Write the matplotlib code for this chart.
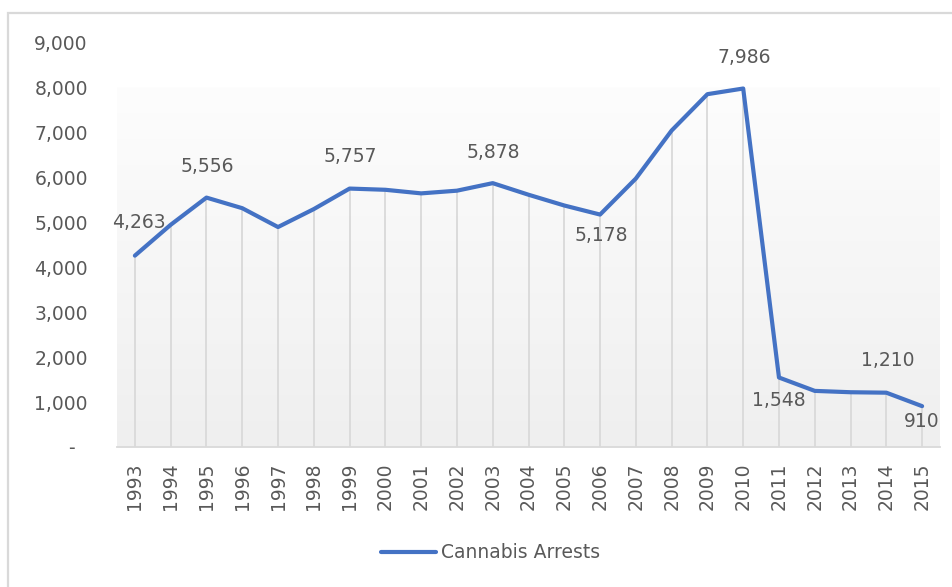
import matplotlib
matplotlib.use("Agg")
import matplotlib.pyplot as plt
import numpy as np
from matplotlib.patches import Rectangle

years = [1993, 1994, 1995, 1996, 1997, 1998, 1999, 2000, 2001, 2002, 2003, 2004,
         2005, 2006, 2007, 2008, 2009, 2010, 2011, 2012, 2013, 2014, 2015]
arrests = [4263, 4950, 5556, 5320, 4900, 5300, 5757, 5730, 5650, 5710, 5878, 5620,
           5380, 5178, 5980, 7050, 7860, 7986, 1548, 1250, 1220, 1210, 910]
series_name = "Cannabis Arrests"
labelled_years = [1993, 1995, 1999, 2003, 2006, 2010, 2011, 2014, 2015]
y_ticks = [0, 1000, 2000, 3000, 4000, 5000, 6000, 7000, 8000, 9000]

# label offsets in pixels (dx, dy) relative to each labelled point
label_offsets = {1993: (4, 33), 1995: (1, 31), 1999: (1, 32), 2003: (1, 31),
                 2006: (1, -21), 2010: (1, 31), 2011: (0, -23), 2014: (1, 32),
                 2015: (0, -15)}

W, H, DPI = 952, 587, 100
LINE = "#4472C4"
TEXT = "#595959"
GRID = "#d9d9d9"
FS = 13.5

fig = plt.figure(figsize=(W / DPI, H / DPI), dpi=DPI)
fig.patch.set_facecolor("white")

# chart-area border
fig.patches.append(Rectangle((8 / W, -0.1), 1.2, 1 - 13 / H + 0.1,
                             transform=fig.transFigure, fill=False,
                             edgecolor=GRID, linewidth=1.6))

left, right, top, bottom = 117, 940, 43, 447
ax = fig.add_axes([left / W, 1 - bottom / H, (right - left) / W, (bottom - top) / H])

x = np.arange(len(years))
ax.set_xlim(-0.5, len(years) - 0.5)
ax.set_ylim(0, 9000)

# plot-area gradient: near-white under the top band fading to light grey
grad = np.linspace(1.0, 0.0, 256).reshape(-1, 1)
top_c = np.array([0xfd, 0xfd, 0xfd]) / 255
bot_c = np.array([0xef, 0xef, 0xef]) / 255
img = top_c * grad[..., None] + bot_c * (1 - grad[..., None])
ax.imshow(img, extent=[-0.5, len(years) - 0.5, 0, 8000], aspect="auto",
          origin="upper", zorder=0, interpolation="bilinear")

# drop lines from each point to the axis
ax.vlines(x, 0, arrests, color=GRID, linewidth=1.3, zorder=1)

ax.plot(x, arrests, color=LINE, linewidth=3.0, solid_joinstyle="round",
        solid_capstyle="round", zorder=3, label=series_name)

for yr in labelled_years:
    i = years.index(yr)
    dx, dy = label_offsets[yr]
    ax.annotate(f"{arrests[i]:,}", (x[i], arrests[i]), xytext=(dx, dy),
                textcoords="offset pixels", ha="center", va="center",
                fontsize=FS, color=TEXT, zorder=4)

ax.set_xticks(x)
ax.set_xticklabels([str(y) for y in years], rotation=90, fontsize=FS, color=TEXT)
ax.set_yticks(y_ticks)
ax.set_yticklabels(["-  "] + [f"{v:,}" for v in y_ticks[1:]], fontsize=FS, color=TEXT)
ax.tick_params(axis="x", length=0, pad=11)
ax.tick_params(axis="y", length=0, pad=21)

for s in ("top", "right", "left"):
    ax.spines[s].set_visible(False)
ax.spines["bottom"].set_color(GRID)
ax.spines["bottom"].set_linewidth(1.3)
ax.set_facecolor("white")

leg = fig.legend(loc="center", bbox_to_anchor=(491 / W, 1 - 553 / H), frameon=False,
                 fontsize=FS, handlelength=2.9, handletextpad=0.3)
for t in leg.get_texts():
    t.set_color(TEXT)

fig.savefig("out.png", dpi=DPI)
